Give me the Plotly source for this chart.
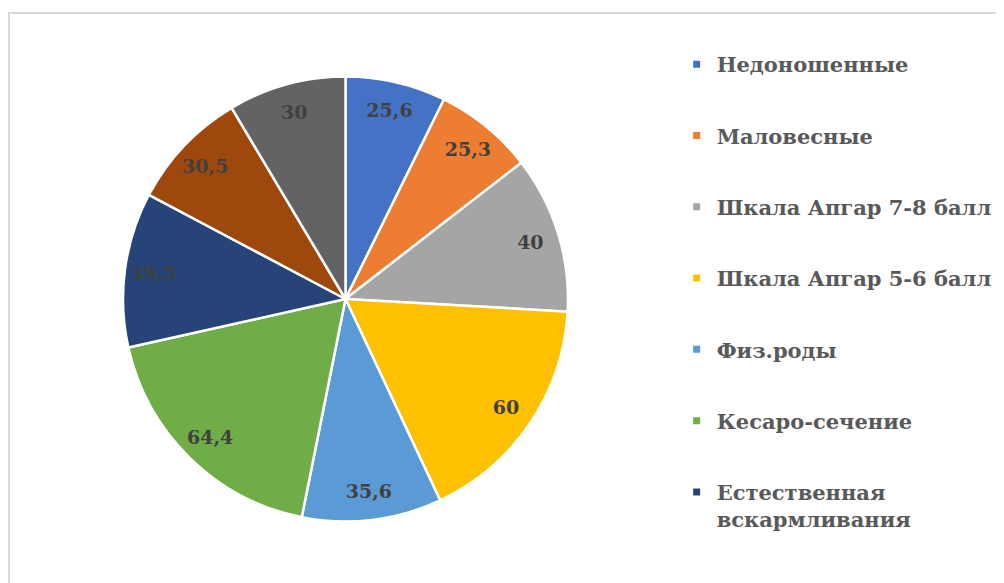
import plotly.graph_objects as go

# slice data (clockwise from 12 o'clock)
labels = [
    "Недоношенные",
    "Маловесные",
    "Шкала Апгар 7-8 балл",
    "Шкала Апгар 5-6 балл",
    "Физ.роды",
    "Кесаро-сечение",
    "Естественная вскармливания",
    "Искусственное вскармливание",
    "Смешанное вскармливание",
]
values = [25.6, 25.3, 40, 60, 35.6, 64.4, 39.5, 30.5, 30]
colors = ["#4472C4", "#ED7D31", "#A5A5A5", "#FFC000", "#5B9BD5",
          "#70AD47", "#264478", "#9E480E", "#636363"]

# legend shows only the first 7 entries (rest is cut off in the original)
legend_labels = labels[:6] + ["Естественная<br>вскармливания"]

text = [str(v).replace(".", ",") if v % 1 else str(int(v)) for v in values]

W, H = 1004, 583
pie_domain = dict(x=[115 / W, 560 / W], y=[1 - 514 / H, 1 - 68 / H])

fig = go.Figure()
# the filled pie
fig.add_trace(go.Pie(
    labels=labels,
    values=values,
    textinfo="none",
    sort=False,
    direction="clockwise",
    rotation=0,
    marker=dict(colors=colors, line=dict(color="white", width=2.5)),
    domain=pie_domain,
    showlegend=False,
))
# transparent ring on top only to put the value labels near the outer edge
fig.add_trace(go.Pie(
    labels=labels,
    values=values,
    text=text,
    textinfo="text",
    textposition="inside",
    insidetextorientation="horizontal",
    hole=0.74,
    sort=False,
    direction="clockwise",
    rotation=0,
    marker=dict(colors=["rgba(0,0,0,0)"] * len(values), line=dict(width=0)),
    textfont=dict(family="DejaVu Serif", size=19, color="#404040", weight="bold"),
    domain=pie_domain,
    showlegend=False,
    hoverinfo="skip",
))

for i, name in enumerate(legend_labels):
    fig.add_trace(go.Scatter(
        x=[None], y=[None], mode="markers", name=name,
        legendgroup=f"g{i}",
        marker=dict(symbol="square", size=7, color=colors[i]),
    ))

fig.update_layout(
    width=W, height=H,
    margin=dict(l=0, r=0, t=0, b=0),
    paper_bgcolor="white",
    plot_bgcolor="white",
    xaxis=dict(visible=False),
    yaxis=dict(visible=False),
    legend=dict(
        x=0.666, y=1 - 36 / H, xanchor="left", yanchor="top",
        font=dict(family="DejaVu Serif", size=21, color="#595959", weight="bold"),
        tracegroupgap=41,
        itemwidth=30,
        valign="top",
    ),
    shapes=[dict(
        type="rect", xref="paper", yref="paper",
        x0=1 / W, x1=1.02, y0=-0.02, y1=1 - 5 / H,
        line=dict(color="#D9D9D9", width=2),
    )],
)

fig.write_html("out.html")
